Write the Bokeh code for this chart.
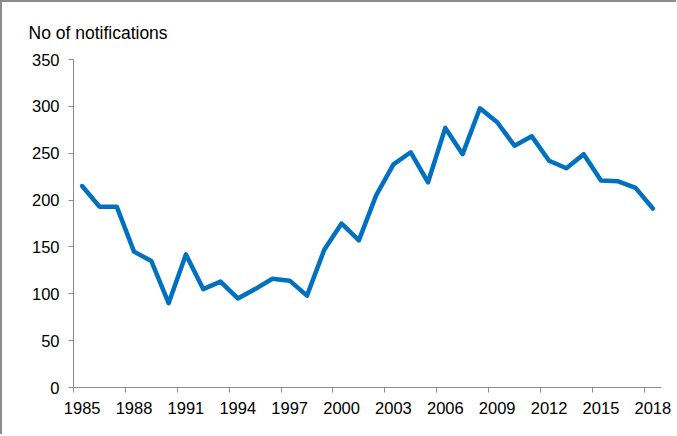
from bokeh.plotting import figure
from bokeh.models import FixedTicker, Range1d
from bokeh.embed import file_html
from bokeh.resources import INLINE

years = list(range(1985, 2019))
notifications = [215, 193, 193, 145, 135, 90, 142, 105, 113, 95, 105, 116, 114, 98,
                 147, 175, 157, 205, 238, 251, 219, 277, 249, 298, 283, 258, 268,
                 242, 234, 249, 221, 220, 213, 191]
x_tick_labels = [1985, 1988, 1991, 1994, 1997, 2000, 2003, 2006, 2009, 2012, 2015, 2018]
y_ticks = [0, 50, 100, 150, 200, 250, 300, 350]
y_title = "No of notifications"

FONT = "Liberation Sans"
AXIS_COL = "#8c8c8c"

p = figure(width=676, height=434, output_backend="svg", toolbar_location=None,
           x_range=Range1d(1984.5, 2018.5), y_range=Range1d(0, 350),
           min_border_left=71, min_border_right=17, min_border_top=57, min_border_bottom=49,
           title=y_title)
p.styles = {"border-left": "2px solid #8c8c8c", "border-top": "2px solid #8c8c8c"}

p.line(years, notifications, line_color="#0070C0", line_width=4.5,
       line_join="round", line_cap="round")

p.title.text_font = FONT
p.title.text_font_size = "17.5px"
p.title.text_font_style = "normal"
p.title.text_color = "#000000"
p.title.align = "left"
p.title.offset = -45
p.title.standoff = 34

p.outline_line_color = None
p.xgrid.grid_line_color = None
p.ygrid.grid_line_color = None

xa = p.xaxis[0]
xa.ticker = FixedTicker(ticks=x_tick_labels,
                        minor_ticks=[y - 0.5 for y in x_tick_labels])
xa.major_tick_line_color = None
xa.major_tick_out = 0
xa.major_tick_in = 0
xa.minor_tick_line_color = AXIS_COL
xa.minor_tick_out = 5
xa.minor_tick_in = 0
xa.axis_line_color = AXIS_COL
xa.major_label_text_font = FONT
xa.major_label_text_font_size = "16.5px"
xa.major_label_text_color = "#000000"
xa.major_label_standoff = 9

ya = p.yaxis[0]
ya.ticker = FixedTicker(ticks=y_ticks)
ya.minor_tick_line_color = None
ya.major_tick_line_color = AXIS_COL
ya.major_tick_out = 5
ya.major_tick_in = 0
ya.axis_line_color = AXIS_COL
ya.major_label_text_font = FONT
ya.major_label_text_font_size = "16.5px"
ya.major_label_text_color = "#000000"
ya.major_label_standoff = 9

open("out.html", "w").write(file_html(p, INLINE))
